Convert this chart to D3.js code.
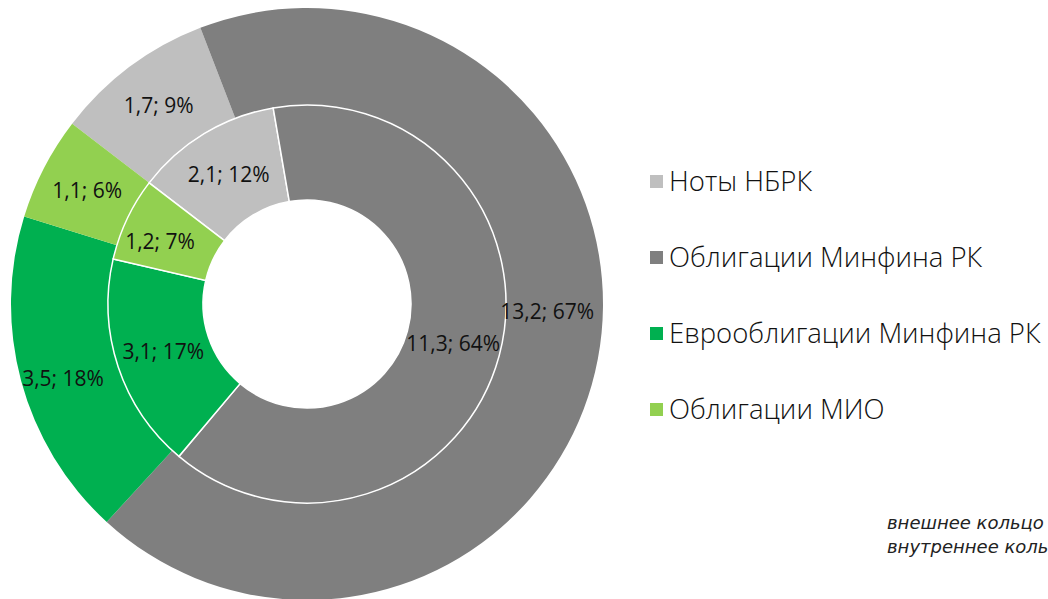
<!DOCTYPE html>
<html>
<head>
<meta charset="utf-8">
<script src="https://cdn.jsdelivr.net/npm/d3@7"></script>
<style>
  body { margin: 0; background: #fff; overflow: hidden; }
  svg { display: block; }
  .lbl { font-family: "Open Sans", sans-serif; font-size: 21px; fill: #111; }
  .leg { font-family: "Open Sans", sans-serif; font-size: 27.5px; font-weight: 300; fill: #111; }
  .note { font-family: "DejaVu Sans", sans-serif; font-size: 18px; font-style: italic; fill: #222; }
</style>
</head>
<body>
<svg></svg>
<script>
// categories in legend order
var categories = ["Ноты НБРК", "Облигации Минфина РК", "Еврооблигации Минфина РК", "Облигации МИО"];
var colors = ["#bfbfbf", "#7f7f7f", "#00b050", "#92d050"];

// outer ring
var outerValues = [1.7, 13.2, 3.5, 1.1];
var outerPct = [9, 67, 18, 6];
// inner ring
var innerValues = [2.1, 11.3, 3.1, 1.2];
var innerPct = [12, 64, 17, 7];

var notes = ["внешнее кольцо", "внутреннее кольцо"];

var width = 1048, height = 599;
var cx = 307, cy = 304;
var rHole = 104, rMid = 199, rOuter = 296;
var start = -52.5 * Math.PI / 180;

var svg = d3.select("svg").attr("width", width).attr("height", height);
var g = svg.append("g").attr("transform", `translate(${cx},${cy})`);

var pie = d3.pie().sort(null)
  .startAngle(start)
  .endAngle(start + 2 * Math.PI);

var fmt = function(v) { return String(v).replace(".", ","); };

var outerArc = d3.arc().innerRadius(rMid).outerRadius(rOuter);
var innerArc = d3.arc().innerRadius(rHole).outerRadius(rMid);

var outerData = pie(outerValues);
var innerData = pie(innerValues);

g.append("g").selectAll("path")
  .data(outerData)
  .enter().append("path")
  .attr("d", outerArc)
  .attr("fill", function(d, i) { return colors[i]; });

g.append("g").selectAll("path")
  .data(innerData)
  .enter().append("path")
  .attr("d", innerArc)
  .attr("fill", function(d, i) { return colors[i]; })
  .attr("stroke", "#fff")
  .attr("stroke-width", 1.5);

// Excel moved a couple of labels off the centroid
function outerPos(d, i) {
  var c = outerArc.centroid(d);
  if (i === 1) { c = [c[0] - 3, c[1] - 38]; }
  if (i === 2) { c = [c[0] - 5, c[1] + 10]; }
  return c;
}

function innerPos(d, i) {
  var c = innerArc.centroid(d);
  if (i === 3) { c = [c[0] - 10, c[1] + 2]; }
  return c;
}

g.append("g").selectAll("text")
  .data(outerData)
  .enter().append("text")
  .attr("class", "lbl")
  .attr("text-anchor", "middle")
  .attr("dy", "0.35em")
  .attr("x", function(d, i) { return outerPos(d, i)[0]; })
  .attr("y", function(d, i) { return outerPos(d, i)[1]; })
  .text(function(d, i) { return fmt(outerValues[i]) + "; " + outerPct[i] + "%"; });

g.append("g").selectAll("text")
  .data(innerData)
  .enter().append("text")
  .attr("class", "lbl")
  .attr("text-anchor", "middle")
  .attr("dy", "0.35em")
  .attr("x", function(d, i) { return innerPos(d, i)[0]; })
  .attr("y", function(d, i) { return innerPos(d, i)[1]; })
  .text(function(d, i) { return fmt(innerValues[i]) + "; " + innerPct[i] + "%"; });

// legend
var legend = svg.append("g").attr("transform", "translate(650,181)");
var row = legend.selectAll("g")
  .data(categories)
  .enter().append("g")
  .attr("transform", function(d, i) { return `translate(0,${i * 76})`; });
row.append("rect")
  .attr("x", 0).attr("y", -6)
  .attr("width", 13).attr("height", 13)
  .attr("fill", function(d, i) { return colors[i]; });
row.append("text")
  .attr("class", "leg")
  .attr("x", 19)
  .attr("dy", "0.35em")
  .text(function(d) { return d; });

// footnote, runs off the right edge as in the original
svg.append("g").selectAll("text")
  .data(notes)
  .enter().append("text")
  .attr("class", "note")
  .attr("x", 887)
  .attr("y", function(d, i) { return 529 + i * 24; })
  .text(function(d) { return d; });
</script>
</body>
</html>
